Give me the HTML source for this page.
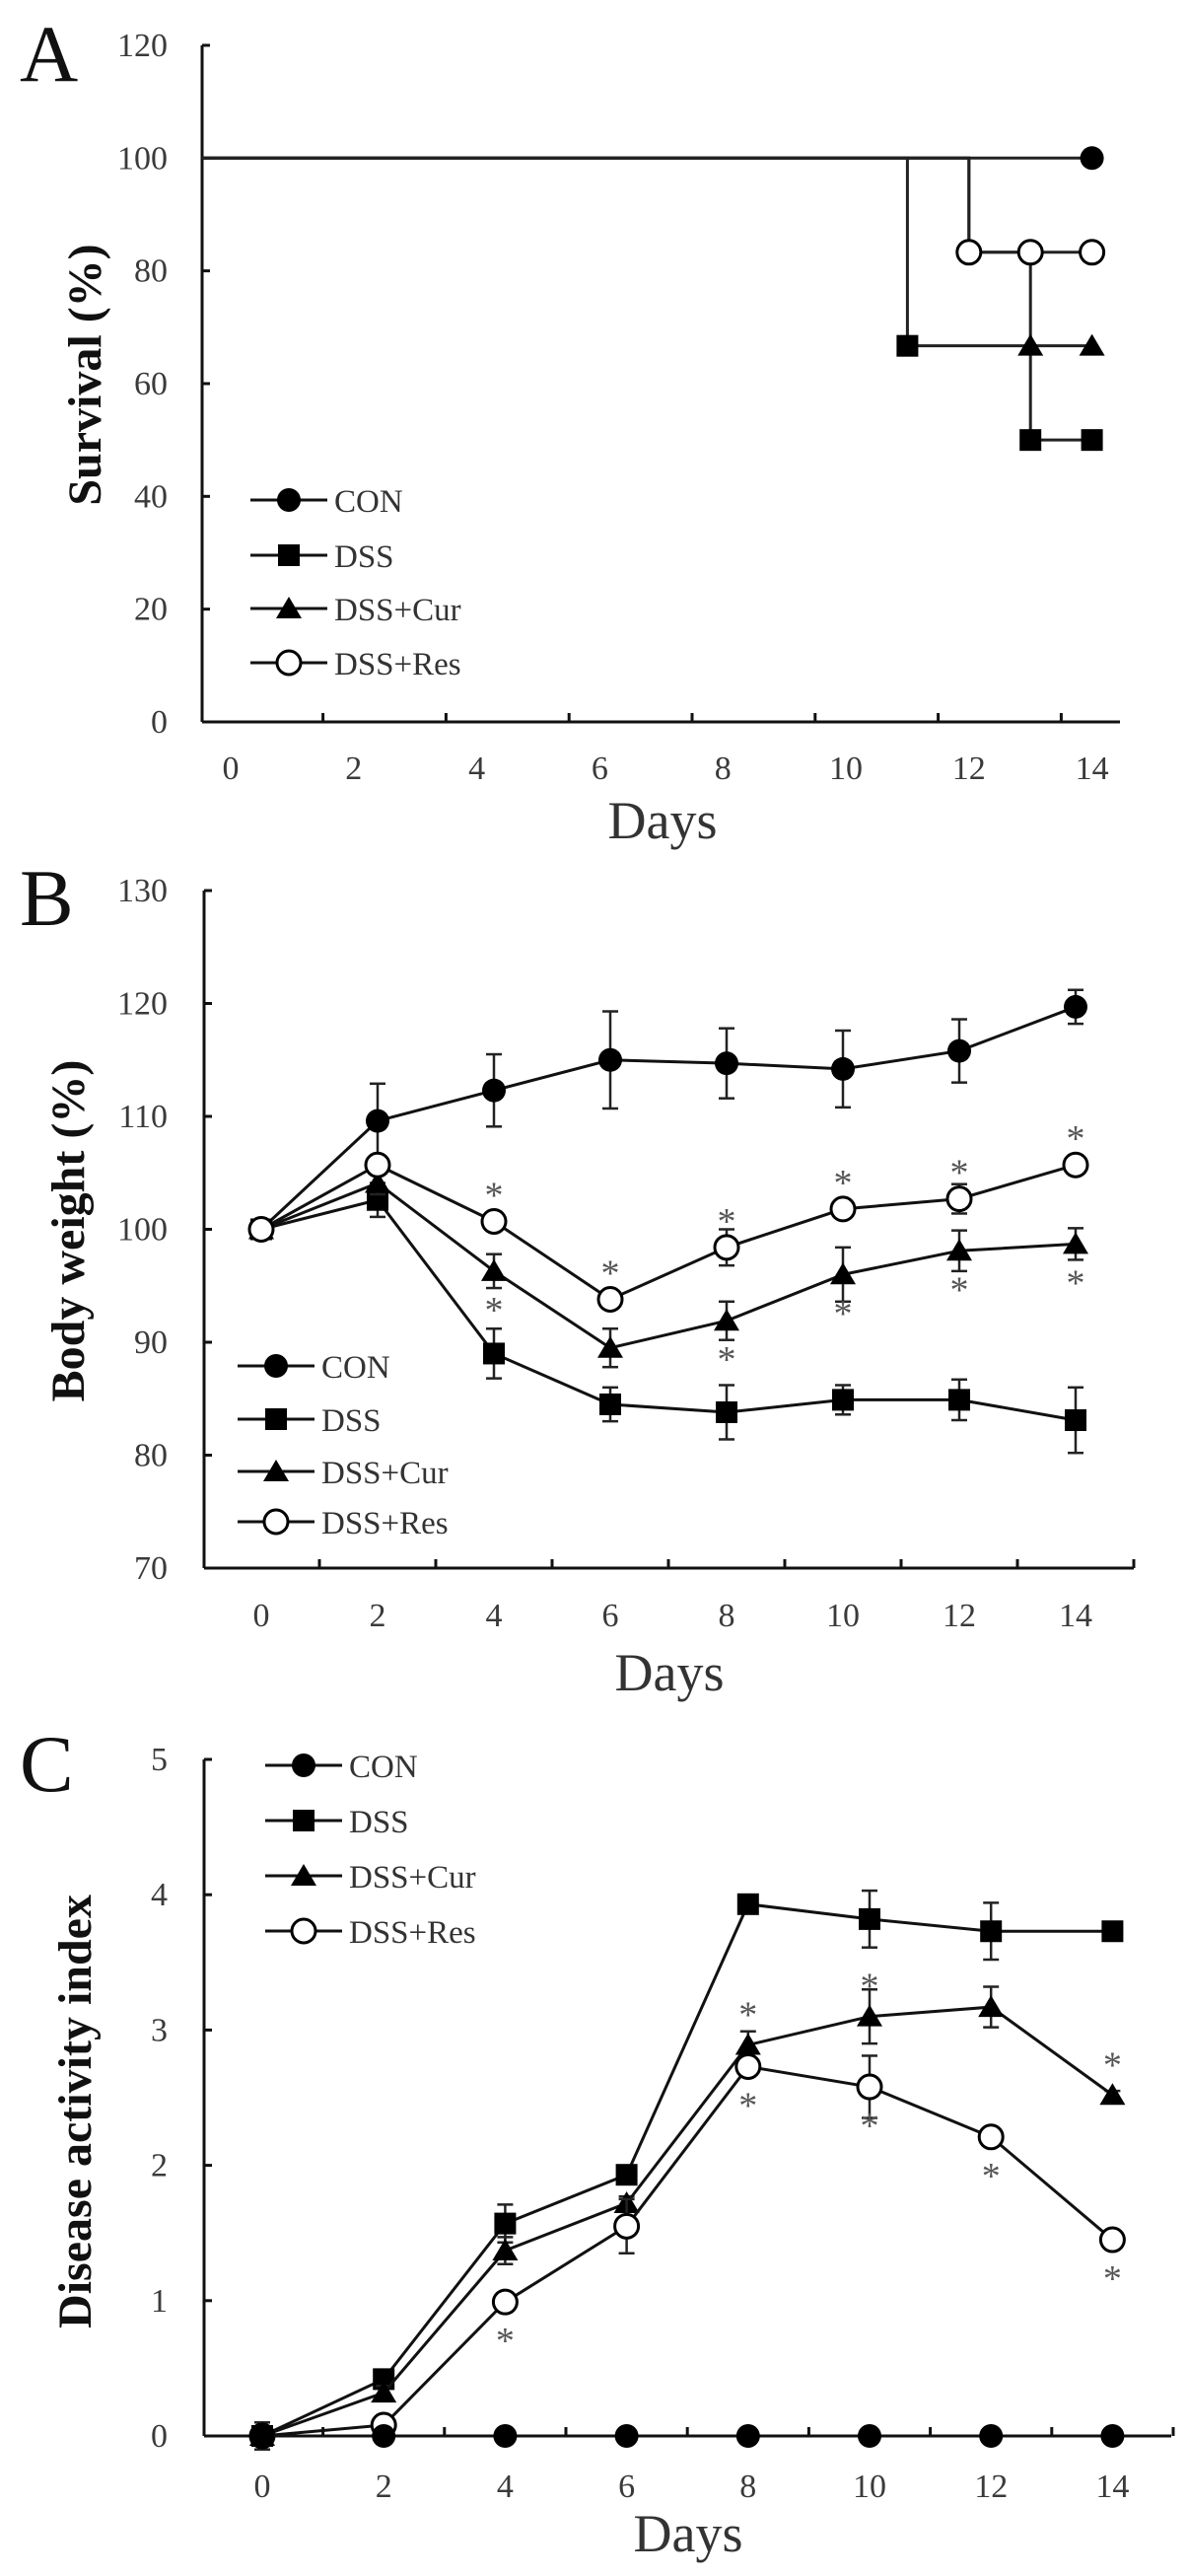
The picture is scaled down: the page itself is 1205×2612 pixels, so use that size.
<!DOCTYPE html>
<html><head><meta charset="utf-8"><style>
html,body{margin:0;padding:0;background:#fff;}
svg{display:block;font-family:"Liberation Serif",serif;}
.tick{font-size:34px;fill:#3a3a3a;}
.leg{font-size:33px;fill:#333;}
.ast{font-size:38px;fill:#555;}
</style></head><body>
<svg id="fig" width="1205" height="2612" viewBox="0 0 1205 2612" xmlns="http://www.w3.org/2000/svg"></svg>
<script>
// ---------- Panel A data (survival steps) ----------
const aYTicks = [0,20,40,60,80,100,120];
const aXTicks = [0,2,4,6,8,10,12,14];
const aConT = [0,14], aConV = [100,100], aConM = [14];
const aDssT = [0,11,13,14], aDssV = [100,66.7,50,50], aDssM = [11,13,14];
const aCurT = [0,12,13,14], aCurV = [100,83.3,66.7,66.7], aCurM = [13,14];
const aResT = [0,12,14], aResV = [100,83.3,83.3], aResM = [12,13,14];
// ---------- Panel B data (body weight) ----------
const days = [0,2,4,6,8,10,12,14];
const bYTicks = [70,80,90,100,110,120,130];
const bCon = [100,109.6,112.3,115.0,114.7,114.2,115.8,119.7];
const bConErr = [0,3.3,3.2,4.3,3.1,3.4,2.8,1.5];
const bDss = [100,102.6,89.0,84.5,83.8,84.9,84.9,83.1];
const bDssErr = [0,1.5,2.2,1.5,2.4,1.3,1.8,2.9];
const bCur = [100,104.1,96.3,89.5,91.9,96.0,98.1,98.7];
const bCurErr = [0,1.0,1.5,1.7,1.7,2.4,1.8,1.4];
const bRes = [100,105.7,100.7,93.8,98.4,101.8,102.7,105.7];
const bResErr = [0,0.5,0.5,0.5,1.6,0.5,1.3,0.5];
const bAstAbove = [0,0,1,1,1,1,1,1]; // above DSS+Res
const bAstBelow = [0,0,1,0,1,1,1,1]; // below DSS+Cur
// ---------- Panel C data (DAI) ----------
const cYTicks = [0,1,2,3,4,5];
const cCon = [0,0,0,0,0,0,0,0];
const cConErr = [0,0,0,0,0,0,0,0];
const cDss = [0,0.42,1.57,1.93,3.93,3.82,3.73,3.73];
const cDssErr = [0,0.05,0.14,0.05,0.05,0.21,0.21,0.03];
const cCur = [0,0.32,1.37,1.72,2.89,3.10,3.17,2.52];
const cCurErr = [0,0.05,0.10,0.05,0.10,0.20,0.15,0.03];
const cRes = [0,0.08,0.99,1.55,2.73,2.58,2.21,1.45];
const cResErr = [0.1,0.05,0.05,0.20,0.05,0.23,0.05,0.03];
const cAstCurAbove = [0,0,0,0,1,1,0,1];
const cAstResBelow = [0,0,1,0,1,1,1,1];

const NS='http://www.w3.org/2000/svg';
const svg=document.getElementById('fig');
function el(tag,attrs,parent){const e=document.createElementNS(NS,tag);for(const k in attrs)e.setAttribute(k,attrs[k]);(parent||svg).appendChild(e);return e;}
function txt(s,attrs,parent){const e=el('text',attrs,parent);e.textContent=s;return e;}

function marker(g,type,x,y){
  let m;
  if(type==='circle'){m=el('circle',{cx:x,cy:y,r:12,fill:'#000'},g);}
  else if(type==='square'){m=el('rect',{x:x-11,y:y-11,width:22,height:22,fill:'#000'},g);}
  else if(type==='triangle'){m=el('polygon',{points:(x)+','+(y-12)+' '+(x-13)+','+(y+10)+' '+(x+13)+','+(y+10),fill:'#000'},g);}
  else {m=el('circle',{cx:x,cy:y,r:12,fill:'#fff',stroke:'#000','stroke-width':3},g);}
  return m;
}

function axes(p){
  const g=el('g',{});
  
  
  el('line',{x1:p.ax,y1:p.y(p.yTicks[p.yTicks.length-1]),x2:p.ax,y2:p.ay,stroke:'#111','stroke-width':3},g);
  el('line',{x1:p.ax,y1:p.ay,x2:p.axEnd,y2:p.ay,stroke:'#111','stroke-width':3},g);
  p.yTicks.forEach(v=>{
    const yy=p.y(v);
    el('line',{x1:p.ax,y1:yy,x2:p.ax+8,y2:yy,stroke:'#111','stroke-width':3},g);
    const t=txt(String(v),{x:170,y:yy+11,'text-anchor':'end','class':'tick'},g);
    
    
  });
  p.xTickMarks.forEach(d=>{
    const xx=p.x(d);
    el('line',{x1:xx,y1:p.ay,x2:xx,y2:p.ay-9,stroke:'#111','stroke-width':3},g);
  });
  p.xTicks.forEach(d=>{
    const t=txt(String(d),{x:p.x(d),y:p.labY,'text-anchor':'middle','class':'tick'},g);
    
    
  });
  const xt=txt('Days',{x:p.daysX,y:p.daysY,'text-anchor':'middle','font-size':54,fill:'#333'},g);
  
  
  const yt=txt(p.ytitle,{x:0,y:0,'text-anchor':'middle','font-size':48,'font-weight':'bold',fill:'#111',transform:'translate('+(p.ytX+16)+','+p.ytY+') rotate(-90)'},g);
  
  
  const pl=txt(p.letter,{x:20,y:p.letterY,'font-size':82,fill:'#111'},g);
  
  
}

function legend(p,lx,rows){
  const names=['CON','DSS','DSS+Cur','DSS+Res'];
  const types=['circle','square','triangle','open'];
  names.forEach((n,i)=>{
    const g=el('g',{});
    
    
    el('line',{x1:lx,y1:rows[i],x2:lx+78,y2:rows[i],stroke:'#111','stroke-width':3},g);
    marker(g,types[i],lx+39,rows[i]);
    txt(n,{x:lx+85,y:rows[i]+12,'class':'leg'},g);
  });
}

function lineSeries(p,name,type,vals,errs){
  const g=el('g',{});
  
  
  errs.forEach((e,i)=>{
    if(!e)return;
    const xx=p.x(days[i]),y1=p.y(vals[i]+e),y2=p.y(vals[i]-e);
    el('line',{x1:xx,y1:y1,x2:xx,y2:y2,stroke:'#222','stroke-width':2.5},g);
    el('line',{x1:xx-8,y1:y1,x2:xx+8,y2:y1,stroke:'#222','stroke-width':2.5},g);
    el('line',{x1:xx-8,y1:y2,x2:xx+8,y2:y2,stroke:'#222','stroke-width':2.5},g);
  });
  el('polyline',{points:vals.map((v,i)=>p.x(days[i])+','+p.y(v)).join(' '),fill:'none',stroke:'#111','stroke-width':3},g);
  vals.forEach((v,i)=>{
    const m=marker(g,type,p.x(days[i]),p.y(v));
    
    
  });
}

function ast(x,y){
  const t=txt('*',{x:x,y:y,'text-anchor':'middle','class':'ast'});
  
  
}

// ---------- Panel A ----------
const A={id:'panel-a',ax:205,ay:732,axEnd:1136,yTicks:aYTicks,xTicks:aXTicks,
  x:d=>234+62.4*d,y:v=>732-5.717*v,xTickMarks:[1.5,3.5,5.5,7.5,9.5,11.5,13.5],
  labY:790,daysX:672,daysY:850,ytitle:'Survival (%)',ytX:86,ytY:380,letter:'A',letterY:82};
axes(A);
legend(A,254,[507,563,617,672]);
function stepSeries(p,name,type,T,V,M){
  const g=el('g',{});
  
  
  let pts=[];
  for(let i=0;i<T.length;i++){
    const xx = i===0 ? p.ax : p.x(T[i]);
    if(i>0){pts.push(xx+','+p.y(V[i-1]));}
    pts.push(xx+','+p.y(V[i]));
  }
  el('polyline',{points:pts.join(' '),fill:'none',stroke:'#222','stroke-width':3},g);
  M.forEach(t=>{
    let v=V[0];
    for(let i=0;i<T.length;i++){if(T[i]<=t)v=V[i];}
    const m=marker(g,type,p.x(t),p.y(v));
    
    
  });
}
stepSeries(A,'con','circle',aConT,aConV,aConM);
stepSeries(A,'dss','square',aDssT,aDssV,aDssM);
stepSeries(A,'dss-cur','triangle',aCurT,aCurV,aCurM);
stepSeries(A,'dss-res','open',aResT,aResV,aResM);

// ---------- Panel B ----------
const B={id:'panel-b',ax:207,ay:1590,axEnd:1150,yTicks:bYTicks,xTicks:days,
  x:d=>265+59.0*d,y:v=>1590-(v-70)*11.45,xTickMarks:[1,3,5,7,9,11,13,15],
  labY:1649,daysX:679,daysY:1714,ytitle:'Body weight (%)',ytX:69,ytY:1248,letter:'B',letterY:938};
axes(B);
lineSeries(B,'con','circle',bCon,bConErr);
lineSeries(B,'dss','square',bDss,bDssErr);
lineSeries(B,'dss-cur','triangle',bCur,bCurErr);
lineSeries(B,'dss-res','open',bRes,bResErr);
legend(B,241,[1385,1439,1492,1543]);
days.forEach((d,i)=>{
  if(bAstAbove[i])ast(B.x(d),B.y(bRes[i])-14);
  if(bAstBelow[i])ast(B.x(d),B.y(bCur[i])+52);
});

// ---------- Panel C ----------
const C={id:'panel-c',ax:207,ay:2470,axEnd:1188,yTicks:cYTicks,xTicks:days,
  x:d=>266+61.6*d,y:v=>2470-137.2*v,xTickMarks:[1,3,5,7,9,11,13,15],
  labY:2532,daysX:698,daysY:2587,ytitle:'Disease activity index',ytX:76,ytY:2141,letter:'C',letterY:1816};
axes(C);
lineSeries(C,'dss','square',cDss,cDssErr);
lineSeries(C,'dss-cur','triangle',cCur,cCurErr);
lineSeries(C,'dss-res','open',cRes,cResErr);
lineSeries(C,'con','circle',cCon,cConErr);
legend(C,269,[1790,1846,1902,1958]);
days.forEach((d,i)=>{
  if(cAstCurAbove[i])ast(C.x(d),C.y(cCur[i])-18);
  if(cAstResBelow[i])ast(C.x(d),C.y(cRes[i])+52);
});
</script>
</body></html>
